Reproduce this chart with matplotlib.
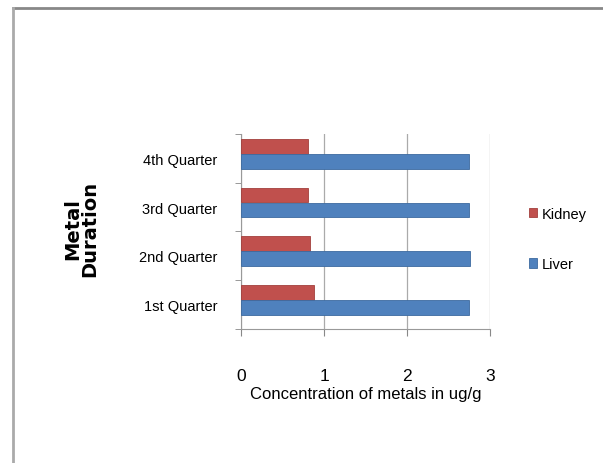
import numpy as np
import matplotlib
matplotlib.use("Agg")
import matplotlib.pyplot as plt
from matplotlib import font_manager
from matplotlib.lines import Line2D

quarters = ["1st Quarter", "2nd Quarter", "3rd Quarter", "4th Quarter"]
kidney = [0.88, 0.83, 0.81, 0.81]
liver = [2.75, 2.76, 2.74, 2.74]

installed = {f.name for f in font_manager.fontManager.ttflist}
narrow = "Liberation Sans Narrow" if "Liberation Sans Narrow" in installed else "Liberation Sans"
red = "#C0504D"
blue = "#4F81BD"

fig = plt.figure(figsize=(6.03, 4.64), dpi=100)
ax = fig.add_axes([0.400, 0.289, 0.413, 0.420])

y = np.arange(len(quarters))
h = 0.3
ax.barh(y + 0.25, kidney, height=h, color=red, edgecolor="#A33F3C", lw=0.6, label="Kidney", zorder=3)
ax.barh(y - 0.06, liver, height=h, color=blue, edgecolor="#3C6AA0", lw=0.6, label="Liver", zorder=3)

ax.set_xlim(0, 3)
ax.set_ylim(-0.5, 3.5)
ax.set_xticks([0, 1, 2, 3])
ax.set_xticklabels(["0", "1", "2", "3"], fontfamily=narrow, fontsize=12.5)
ax.set_yticks(y)
ax.set_yticklabels(quarters, fontfamily=narrow, fontsize=10.5)
ax.set_yticks(np.arange(-0.5, 4, 1), minor=True)
ax.tick_params(axis="y", which="major", length=0, pad=17)
ax.tick_params(axis="y", which="minor", length=4, color="#888888")
ax.tick_params(axis="x", length=5, color="#888888", pad=23, direction="out")

ax.grid(axis="x", color="#AAAAAA", lw=0.9, zorder=0)
for s in ["top", "right"]:
    ax.spines[s].set_visible(False)
for s in ["left", "bottom"]:
    ax.spines[s].set_color("#999999")

ax.set_xlabel("Concentration of metals in ug/g", fontfamily=narrow, fontsize=12, labelpad=2)
fig.text(0.135, 0.507, "Metal\nDuration", rotation=90, fontweight="bold", fontsize=14,
         ha="center", va="center", linespacing=0.9)

ax.legend(loc="center left", bbox_to_anchor=(0.855, 0.483), bbox_transform=fig.transFigure,
          frameon=False, prop={"family": narrow, "size": 10.5}, labelspacing=2.5,
          handlelength=0.6, handleheight=0.6, handletextpad=0.3)

# chart border
fig.add_artist(Line2D([13 / 603, 1], [1 - 9 / 464] * 2, color="#888888", lw=2, transform=fig.transFigure))
fig.add_artist(Line2D([13 / 603] * 2, [0, 1 - 9 / 464], color="#AAAAAA", lw=2, transform=fig.transFigure))

fig.savefig("out.png", dpi=100)
